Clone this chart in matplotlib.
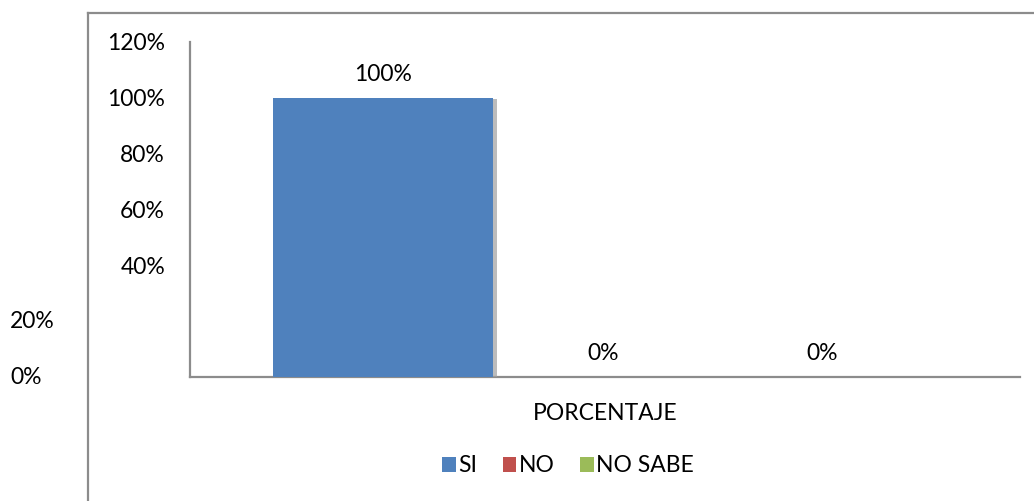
import matplotlib.pyplot as plt
import matplotlib.transforms as mtransforms
from matplotlib.lines import Line2D
from matplotlib.patches import Patch
import matplotlib.patheffects as pe

plt.rcParams['font.family'] = ['Lato', 'DejaVu Sans']

# datos
series = ['SI', 'NO', 'NO SABE']
valores = [100, 0, 0]
colores = ['#4F81BD', '#C0504D', '#9BBB59']
categoria = 'PORCENTAJE'
yticks = [0, 20, 40, 60, 80, 100, 120]

W, H = 1034, 501
fs = 16.5
fig = plt.figure(figsize=(W / 100, H / 100), dpi=100)
ax = fig.add_axes([190 / W, (H - 377) / H, (1020 - 190) / W, (377 - 42) / H])

gris = '#8c8c8c'
# marco exterior (solo izquierda y arriba visibles)
fig.add_artist(Line2D([88 / W, 88 / W], [0, (H - 13) / H], color=gris, lw=1.6))
fig.add_artist(Line2D([88 / W, 1], [(H - 13) / H, (H - 13) / H], color=gris, lw=1.6))

x = list(range(len(series)))
bars = ax.bar(x, valores, width=1.0, color=colores, zorder=3,
              path_effects=[pe.SimplePatchShadow(offset=(3, -1), shadow_rgbFace='#a0a0a0', alpha=0.7),
                            pe.Normal()])
for xi, v in zip(x, valores):
    ax.text(xi, v + 4.5, '%d%%' % v, ha='center', va='bottom', fontsize=fs, color='black')

ax.set_xlim(-0.88, 2.9)
ax.set_ylim(0, 120)
ax.set_yticks(yticks)
ax.set_yticklabels(['' if t < 40 else '%d%%' % t for t in yticks], fontsize=fs)
ax.tick_params(axis='y', length=0, pad=18)
ax.set_xticks([])

# etiquetas 20% y 0% desplazadas a la izquierda
trans = mtransforms.blended_transform_factory(fig.transFigure, ax.transData)
for t in yticks:
    if t < 40:
        ax.text(10 / W, t, '%d%%' % t, transform=trans, ha='left', va='center', fontsize=fs)

for s in ['top', 'right']:
    ax.spines[s].set_visible(False)
for s in ['left', 'bottom']:
    ax.spines[s].set_color(gris)
    ax.spines[s].set_linewidth(1.6)

ax.set_xlabel(categoria, fontsize=fs, labelpad=19)

handles = [Patch(facecolor=c, edgecolor='none') for c in colores]
leg = fig.legend(handles, series, loc='center', bbox_to_anchor=(568 / W, (H - 466) / H),
                 ncol=3, frameon=False, fontsize=fs, handlelength=0.6, handleheight=0.6,
                 handletextpad=0.1, columnspacing=1.1)

fig.savefig('out.png', dpi=100)
